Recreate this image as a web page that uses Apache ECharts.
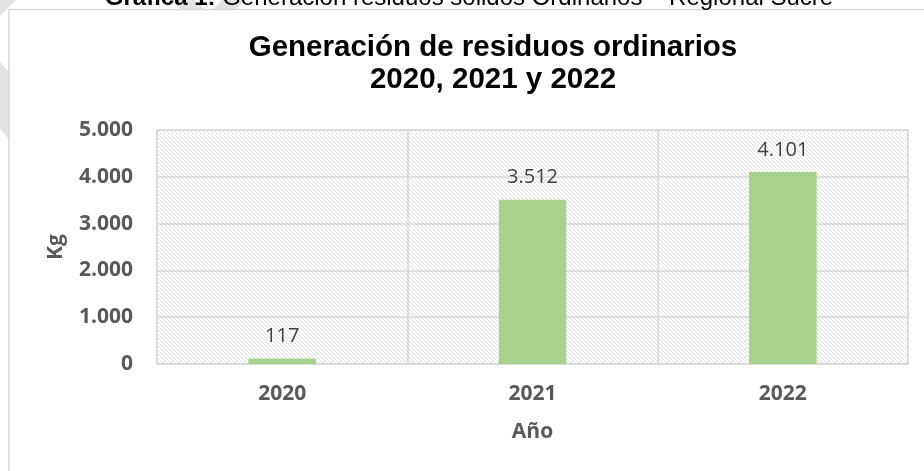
<!DOCTYPE html>
<html>
<head>
<meta charset="utf-8">
<script src="https://cdn.jsdelivr.net/npm/echarts@6/dist/echarts.min.js"></script>
<style>
html,body{margin:0;padding:0;background:#fff;}
#chart{width:924px;height:471px;}
</style>
</head>
<body>
<div id="chart"></div>
<script>
const categories = ['2020', '2021', '2022'];
const values = [117, 3512, 4101];
const yMin = 0, yMax = 5000, yStep = 1000;
const captionBold = 'Grafica 1:';
const captionRest = ' Generación residuos sólidos Ordinarios – Regional Sucre';
const titleLines = ['Generación de residuos ordinarios', '2020, 2021 y 2022'];
const xName = 'Año';
const yName = 'Kg';

function fmt(v){ return String(v).replace(/\B(?=(\d{3})+(?!\d))/g, '.'); }

const tile = document.createElement('canvas');
tile.width = 4; tile.height = 4;
const tctx = tile.getContext('2d');
tctx.fillStyle = '#e0e0e0';
for (let i = 0; i < 4; i++) { tctx.fillRect(i, i, 1, 1); }

const chart = echarts.init(document.getElementById('chart'), null, {renderer:'canvas'});
const sans = '"Open Sans", "DejaVu Sans", sans-serif';
chart.setOption({
  backgroundColor: '#ffffff',
  animation: false,
  graphic: [
    {type:'polygon', z:-10, shape:{points:[[0,0],[16,0],[0,16]]}, style:{fill:'#e2e2e2'}},
    {type:'polygon', z:-10, shape:{points:[[0,62],[9,72],[9,140],[0,128]]}, style:{fill:'#e2e2e2'}},
    {type:'polygon', z:-10, shape:{points:[[172,0],[195,0],[205,10],[182,10]]}, style:{fill:'#e2e2e2'}},
    {type:'polygon', z:-10, shape:{points:[[222,0],[245,0],[235,10],[212,10]]}, style:{fill:'#e2e2e2'}},
    {type:'rect', z:-5, shape:{x:9, y:9.5, width:940, height:480}, style:{fill:'#ffffff', stroke:'#d9d9d9', lineWidth:1.5}},
    {type:'text', z:10,
      style:{
        x: 469, y: -1.5, align:'center', verticalAlign:'middle',
        text: '{b|' + captionBold + '}{r|' + captionRest + '}',
        rich:{
          b:{fontFamily:'"Liberation Sans", Arial, sans-serif', fontWeight:'bold', fontSize:24, fill:'#000'},
          r:{fontFamily:'"Liberation Sans", Arial, sans-serif', fontSize:24, fill:'#000'}
        }
      }
    },
    {type:'text', z:10, style:{x:493, y:48, align:'center', verticalAlign:'middle', text:titleLines[0],
      font:'bold 29.5px "Liberation Sans", Arial, sans-serif', fill:'#000'}},
    {type:'text', z:10, style:{x:493, y:80, align:'center', verticalAlign:'middle', text:titleLines[1],
      font:'bold 29.5px "Liberation Sans", Arial, sans-serif', fill:'#000'}}
  ],
  grid: {
    left:157, right:16, top:130, bottom:107,
    show:true, borderColor:'#d9d9d9', borderWidth:1.5,
    backgroundColor:{image: tile, repeat:'repeat'}
  },
  xAxis: {
    type:'category', data:categories,
    name:xName, nameLocation:'middle', nameGap:58,
    nameTextStyle:{fontFamily:sans, fontWeight:'bold', fontSize:21, color:'#595959'},
    axisLine:{show:true, lineStyle:{color:'#d9d9d9', width:1.5}},
    axisTick:{show:false},
    axisLabel:{fontFamily:sans, fontWeight:'bold', fontSize:21, color:'#595959', margin:20},
    splitLine:{show:true, lineStyle:{color:'#d9d9d9', width:1.5}}
  },
  yAxis: {
    type:'value', min:yMin, max:yMax, interval:yStep,
    name:yName, nameLocation:'middle', nameGap:90, nameRotate:90,
    nameTextStyle:{fontFamily:sans, fontWeight:'bold', fontSize:21, color:'#595959'},
    axisLine:{show:false}, axisTick:{show:false},
    axisLabel:{fontFamily:sans, fontWeight:'bold', fontSize:21, color:'#595959', margin:24, formatter:fmt},
    splitLine:{show:true, lineStyle:{color:'#d9d9d9', width:1.5}}
  },
  series: [{
    type:'bar', data:values, barWidth:'27%',
    itemStyle:{color:'#a9d18e'},
    label:{show:true, position:'top', distance:12, fontFamily:sans, fontSize:20, color:'#404040', formatter:p=>fmt(p.value)}
  }]
});
</script>
</body>
</html>
